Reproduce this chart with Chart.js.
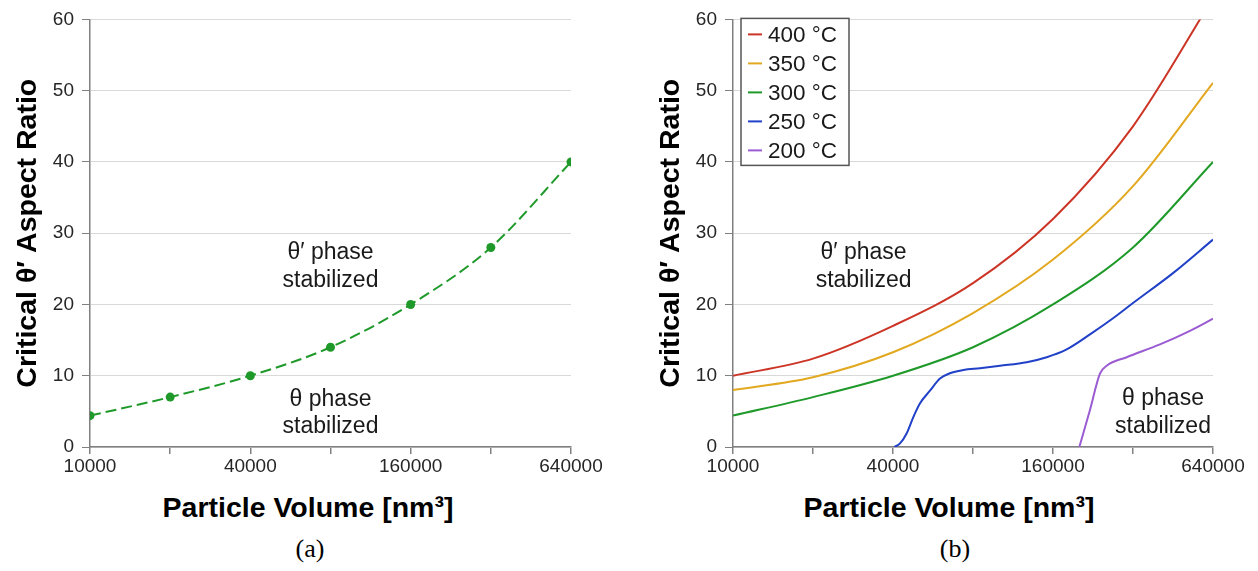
<!DOCTYPE html>
<html>
<head>
<meta charset="utf-8">
<script src="https://cdn.jsdelivr.net/npm/chart.js@4.4.1/dist/chart.umd.min.js"></script>
<style>
  body { margin: 0; background: #fff; }
  #wrap { position: relative; width: 1258px; height: 571px; overflow: hidden; }
  canvas { position: absolute; top: 0; }
  .xtitle, .caption {
    position: absolute; transform: translate(-50%, -50%);
    white-space: nowrap; color: #000;
  }
  .xtitle { font: bold 28.5px "Liberation Sans", Arial, sans-serif; }
  .caption { font: 26px "Liberation Serif", "Times New Roman", serif; }
</style>
</head>
<body>
<div id="wrap">
  <canvas id="chartA" width="620" height="480" style="left:0"></canvas>
  <canvas id="chartB" width="620" height="480" style="left:643px"></canvas>
  <div class="xtitle" style="left:308px; top:507px">Particle Volume [nm³]</div>
  <div class="xtitle" style="left:949px; top:507px">Particle Volume [nm³]</div>
  <div class="caption" style="left:310px; top:549px">(a)</div>
  <div class="caption" style="left:955px; top:549px">(b)</div>
</div>
<script>
// particle volumes (nm^3), one per octave
const volumes = [10000, 20000, 40000, 80000, 160000, 320000, 640000];
const labelledVolumes = [10000, 40000, 160000, 640000];

// (a) critical aspect ratio at 300 °C
const criticalRatio = [4.4, 7, 10, 14, 20, 28, 40];

// (b) critical aspect ratio per ageing temperature
const ratio400 = [10, 12.4, 17, 23, 32, 45, 63];
const ratio350 = [8, 9.8, 13.3, 18.8, 26.3, 36.6, 51.1];
const ratio300 = [4.4, 7, 10, 14, 20, 28, 40];
const volumes250 = [40500, 42500, 45000, 47700, 50500, 55100, 60100, 65500, 73600, 85000, 101100, 127400, 151500, 180100, 220400, 270000, 320000, 452500, 640000];
const ratio250 = [0, 0.5, 1.9, 4.2, 6.1, 7.9, 9.6, 10.35, 10.8, 11.05, 11.4, 11.9, 12.6, 13.7, 15.8, 18.1, 20.2, 24.4, 29.1];
const volumes200 = [201000, 220400, 240300, 254700, 302900, 404300, 524200, 640000];
const ratio200 = [0, 5.2, 10.3, 11.4, 12.6, 14.4, 16.3, 18];

const tempLabels = ['400 °C', '350 °C', '300 °C', '250 °C', '200 °C'];
const tempColors = ['#cc3526', '#e2a820', '#1f9a2a', '#2141c8', '#9a5bd3'];

const SANS = '"Liberation Sans", Arial, sans-serif';

function points(xs, ys) {
  return xs.map((x, i) => ({ x: x, y: ys[i] }));
}

// text labels placed in data coordinates
const notesPlugin = {
  id: 'notes',
  afterDatasetsDraw(chart, args, opts) {
    const { ctx, scales: { x, y } } = chart;
    ctx.save();
    ctx.font = '23px ' + SANS;
    ctx.fillStyle = '#1a1a1a';
    ctx.textAlign = 'center';
    ctx.textBaseline = 'middle';
    (opts.items || []).forEach(n => {
      ctx.fillText(n.text, x.getPixelForValue(n.x), y.getPixelForValue(n.y));
    });
    ctx.restore();
  }
};

// boxed legend in the top-left corner of the plot area
const boxLegend = {
  id: 'boxLegend',
  afterDraw(chart, args, opts) {
    if (!opts.show) return;
    const { ctx, chartArea } = chart;
    const left = chartArea.left + 8, top = chartArea.top - 1;
    const rowH = 29;
    const sets = chart.data.datasets;
    ctx.save();
    ctx.fillStyle = '#fff';
    ctx.fillRect(left, top, 108, 147);
    ctx.strokeStyle = '#555';
    ctx.lineWidth = 1.5;
    ctx.strokeRect(left, top, 108, 147);
    ctx.font = '22.5px ' + SANS;
    ctx.textBaseline = 'middle';
    sets.forEach((ds, i) => {
      const cy = top + 16 + i * rowH;
      ctx.strokeStyle = ds.borderColor;
      ctx.lineWidth = 2;
      ctx.beginPath();
      ctx.moveTo(left + 7, cy);
      ctx.lineTo(left + 21, cy);
      ctx.stroke();
      ctx.fillStyle = '#1a1a1a';
      ctx.fillText(ds.label, left + 27, cy + 1);
    });
    ctx.restore();
  }
};

function baseOptions(rightPad, notes, showLegend) {
  return {
    responsive: false,
    animation: false,
    layout: { padding: { top: 16, right: rightPad, left: 0, bottom: 0 } },
    plugins: {
      legend: { display: false },
      tooltip: { enabled: false },
      notes: { items: notes },
      boxLegend: { show: showLegend }
    },
    elements: { line: { cubicInterpolationMode: 'monotone' } },
    scales: {
      x: {
        type: 'logarithmic',
        min: 10000,
        max: 640000,
        afterBuildTicks: (scale) => { scale.ticks = volumes.map(v => ({ value: v })); },
        afterFit: (scale) => { scale.height = 33; },
        ticks: {
          autoSkip: false,
          maxRotation: 0,
          padding: 1,
          color: '#262626',
          font: { family: SANS, size: 19 },
          callback: (value) => labelledVolumes.includes(value) ? String(value) : ''
        },
        grid: { drawOnChartArea: false, tickLength: 7, color: '#808080', lineWidth: 1.5 },
        border: { color: '#808080', width: 1.5 }
      },
      y: {
        min: 0,
        max: 60,
        afterFit: (scale) => { scale.width = 90; },
        ticks: {
          stepSize: 10,
          padding: 8,
          color: '#262626',
          font: { family: SANS, size: 19 }
        },
        grid: { color: '#d9d9d9', lineWidth: 1, tickLength: 8, tickColor: '#808080' },
        border: { color: '#808080', width: 1.5 },
        title: {
          display: true,
          text: 'Critical θ′ Aspect Ratio',
          color: '#000',
          padding: { top: 11, bottom: 0 },
          font: { family: SANS, size: 28.5, weight: 'bold' }
        }
      }
    }
  };
}

// (a) single temperature
new Chart(document.getElementById('chartA'), {
  type: 'line',
  data: {
    datasets: [{
      label: '300 °C',
      data: points(volumes, criticalRatio),
      borderColor: '#1f9a2a',
      backgroundColor: '#1f9a2a',
      borderWidth: 2,
      borderDash: [11, 5],
      pointRadius: 4.5,
      pointBorderWidth: 0
    }]
  },
  options: baseOptions(49, [
    { text: 'θ′ phase', x: 80000, y: 27.2 },
    { text: 'stabilized', x: 80000, y: 23.3 },
    { text: 'θ phase', x: 80000, y: 6.6 },
    { text: 'stabilized', x: 80000, y: 2.8 }
  ], false),
  plugins: [notesPlugin, boxLegend]
});

// (b) temperature series
const seriesX = [volumes, volumes, volumes, volumes250, volumes200];
const seriesY = [ratio400, ratio350, ratio300, ratio250, ratio200];

new Chart(document.getElementById('chartB'), {
  type: 'line',
  data: {
    datasets: tempLabels.map((lab, i) => ({
      label: lab,
      data: points(seriesX[i], seriesY[i]),
      borderColor: tempColors[i],
      borderWidth: 2,
      pointRadius: 0
    }))
  },
  options: baseOptions(50, [
    { text: 'θ′ phase', x: 31000, y: 27.2 },
    { text: 'stabilized', x: 31000, y: 23.3 },
    { text: 'θ phase', x: 415000, y: 6.8 },
    { text: 'stabilized', x: 415000, y: 2.85 }
  ], true),
  plugins: [notesPlugin, boxLegend]
});
</script>
</body>
</html>
